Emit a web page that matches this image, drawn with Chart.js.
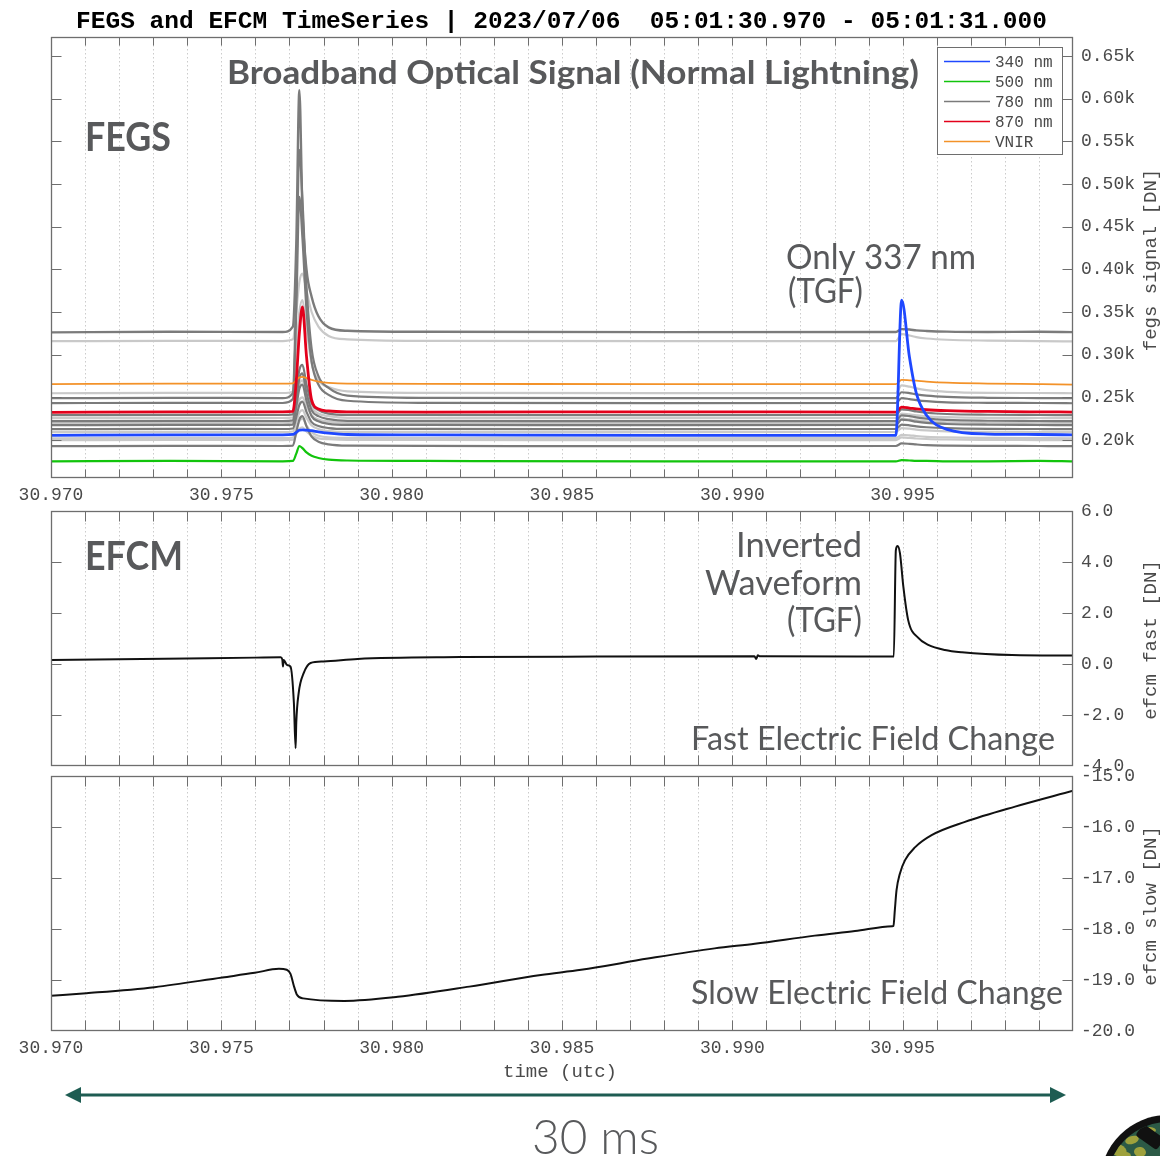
<!DOCTYPE html>
<html>
<head>
<meta charset="utf-8">
<script src="https://cdn.jsdelivr.net/npm/chart.js@4/dist/chart.umd.min.js"></script>
<style>
  html, body { margin: 0; padding: 0; background: #ffffff; }
  #wrap { position: relative; width: 1160px; height: 1156px; overflow: hidden; background: #ffffff; }
  #wrap canvas { position: absolute; left: 0; top: 0; }
</style>
</head>
<body>
<div id="wrap">
  <canvas id="fegs" width="1160" height="1156"></canvas>
  <canvas id="fast" width="1160" height="1156"></canvas>
  <canvas id="slow" width="1160" height="1156"></canvas>
  <canvas id="deco" width="1160" height="1156"></canvas>
</div>
<script>
// ---- time axis: seconds past 05:01 UTC ----
const TIME_MIN = 30.970;
const TIME_MAX = 31.000;
const TIME_TICKS = [30.970, 30.975, 30.980, 30.985, 30.990, 30.995];

// ---- value axes ----
const FEGS_TICKS = [0.20, 0.25, 0.30, 0.35, 0.40, 0.45, 0.50, 0.55, 0.60, 0.65];
const FAST_TICKS = [-4, -2, 0, 2, 4, 6];
const SLOW_TICKS = [-20, -19, -18, -17, -16, -15];

// ---- FEGS channels (kDN), sampled on FEGS_TIME ----
const FEGS_TIME = [30.9700, 30.9735, 30.9768, 30.9771, 30.9772, 30.97729, 30.97738, 30.9775, 30.97765, 30.97785, 30.97815, 30.9787,
                   30.9810, 30.9880, 30.9948, 30.99497, 30.9952, 30.9954, 30.9957, 30.9963, 30.9975, 30.9990, 31.0000];

const CH_340  = [0.2055, 0.2060, 0.2060, 0.2065, 0.2090, 0.2115, 0.2120, 0.2115, 0.2110, 0.2095, 0.2080, 0.2065,
                 0.2060, 0.2055, 0.2055, 0.3640, 0.2970, 0.2550, 0.2290, 0.2125, 0.2070, 0.2065, 0.2060];
const CH_500  = [0.1750, 0.1755, 0.1750, 0.1755, 0.1840, 0.1930, 0.1905, 0.1855, 0.1815, 0.1790, 0.1770, 0.1760,
                 0.1755, 0.1750, 0.1750, 0.1765, 0.1760, 0.1755, 0.1755, 0.1750, 0.1750, 0.1755, 0.1750];
const CH_780  = [0.3262, 0.3268, 0.3266, 0.3330, 0.4300, 0.6100, 0.4700, 0.4000, 0.3680, 0.3450, 0.3320, 0.3280,
                 0.3268, 0.3264, 0.3266, 0.3300, 0.3295, 0.3285, 0.3278, 0.3270, 0.3266, 0.3268, 0.3264];
const CH_870  = [0.2325, 0.2330, 0.2330, 0.2335, 0.2700, 0.3250, 0.3560, 0.2980, 0.2470, 0.2365, 0.2340, 0.2330,
                 0.2328, 0.2330, 0.2328, 0.2385, 0.2375, 0.2365, 0.2355, 0.2345, 0.2335, 0.2330, 0.2328];
const CH_VNIR = [0.2655, 0.2660, 0.2660, 0.2665, 0.2700, 0.2735, 0.2740, 0.2725, 0.2705, 0.2685, 0.2670, 0.2660,
                 0.2658, 0.2655, 0.2655, 0.2705, 0.2700, 0.2695, 0.2685, 0.2672, 0.2662, 0.2655, 0.2650];

// remaining FEGS photometer channels (drawn in gray, not in the key)
const CH_A = [0.3158, 0.3162, 0.3160, 0.3180, 0.3500, 0.3850, 0.3950, 0.3750, 0.3500, 0.3330, 0.3220, 0.3180,
              0.3162, 0.3158, 0.3160, 0.3240, 0.3225, 0.3205, 0.3190, 0.3175, 0.3165, 0.3160, 0.3155];
const CH_B = [0.2490, 0.2494, 0.2492, 0.2550, 0.3800, 0.5400, 0.4820, 0.3800, 0.3070, 0.2750, 0.2610, 0.2520,
              0.2494, 0.2490, 0.2492, 0.2560, 0.2550, 0.2535, 0.2520, 0.2505, 0.2495, 0.2492, 0.2490];
const CH_C = [0.2548, 0.2553, 0.2551, 0.2570, 0.3040, 0.3500, 0.3640, 0.3300, 0.2900, 0.2700, 0.2620, 0.2570,
              0.2552, 0.2549, 0.2551, 0.2640, 0.2625, 0.2605, 0.2585, 0.2565, 0.2553, 0.2551, 0.2548];
const CH_D = [0.2432, 0.2436, 0.2434, 0.2480, 0.3520, 0.4850, 0.4370, 0.3520, 0.2920, 0.2650, 0.2530, 0.2460,
              0.2436, 0.2432, 0.2434, 0.2490, 0.2480, 0.2468, 0.2455, 0.2442, 0.2436, 0.2434, 0.2431];
const CH_E = [0.2291, 0.2295, 0.2293, 0.2300, 0.2560, 0.2820, 0.2880, 0.2650, 0.2430, 0.2350, 0.2310, 0.2295,
              0.2294, 0.2291, 0.2293, 0.2360, 0.2350, 0.2335, 0.2320, 0.2305, 0.2296, 0.2293, 0.2291];
const CH_F = [0.2256, 0.2260, 0.2258, 0.2265, 0.2460, 0.2650, 0.2700, 0.2520, 0.2380, 0.2310, 0.2280, 0.2260,
              0.2259, 0.2256, 0.2258, 0.2310, 0.2300, 0.2290, 0.2278, 0.2268, 0.2260, 0.2258, 0.2256];
const CH_G = [0.2221, 0.2225, 0.2223, 0.2230, 0.2470, 0.2720, 0.2780, 0.2550, 0.2350, 0.2280, 0.2245, 0.2225,
              0.2224, 0.2221, 0.2223, 0.2290, 0.2280, 0.2265, 0.2250, 0.2235, 0.2226, 0.2223, 0.2221];
const CH_H = [0.2197, 0.2201, 0.2199, 0.2205, 0.2340, 0.2470, 0.2500, 0.2400, 0.2290, 0.2240, 0.2215, 0.2200,
              0.2200, 0.2197, 0.2199, 0.2250, 0.2242, 0.2230, 0.2218, 0.2208, 0.2201, 0.2199, 0.2197];
const CH_I = [0.2174, 0.2178, 0.2176, 0.2180, 0.2390, 0.2600, 0.2650, 0.2460, 0.2280, 0.2220, 0.2190, 0.2178,
              0.2177, 0.2174, 0.2176, 0.2240, 0.2230, 0.2215, 0.2200, 0.2188, 0.2179, 0.2176, 0.2174];
const CH_J = [0.2127, 0.2131, 0.2129, 0.2135, 0.2270, 0.2410, 0.2450, 0.2330, 0.2210, 0.2165, 0.2140, 0.2130,
              0.2130, 0.2127, 0.2129, 0.2180, 0.2172, 0.2160, 0.2150, 0.2139, 0.2131, 0.2129, 0.2127];
const CH_K = [0.2092, 0.2096, 0.2094, 0.2100, 0.2210, 0.2320, 0.2350, 0.2260, 0.2170, 0.2130, 0.2105, 0.2095,
              0.2095, 0.2092, 0.2094, 0.2140, 0.2133, 0.2122, 0.2112, 0.2102, 0.2096, 0.2094, 0.2092];
const CH_L = [0.2021, 0.2025, 0.2023, 0.2030, 0.2130, 0.2220, 0.2250, 0.2170, 0.2090, 0.2050, 0.2030, 0.2025,
              0.2024, 0.2021, 0.2023, 0.2060, 0.2055, 0.2047, 0.2038, 0.2030, 0.2025, 0.2023, 0.2021];
const CH_M = [0.1998, 0.2002, 0.2000, 0.2005, 0.2070, 0.2130, 0.2150, 0.2100, 0.2050, 0.2020, 0.2010, 0.2002,
              0.2001, 0.1998, 0.2000, 0.2030, 0.2025, 0.2018, 0.2012, 0.2006, 0.2002, 0.2000, 0.1998];
const CH_N = [0.1928, 0.1932, 0.1930, 0.1935, 0.2090, 0.2240, 0.2280, 0.2160, 0.2040, 0.1980, 0.1950, 0.1935,
              0.1931, 0.1928, 0.1930, 0.1960, 0.1955, 0.1948, 0.1940, 0.1935, 0.1932, 0.1930, 0.1928];

const DARK_CHANNELS  = [CH_B, CH_D, CH_E, CH_G, CH_I, CH_J, CH_N];
const LIGHT_CHANNELS = [CH_A, CH_C, CH_F, CH_H, CH_K, CH_L, CH_M];

// ---- EFCM fast antenna (DN) ----
const FAST_TIME = [30.9700, 30.9720, 30.9740, 30.9760, 30.97674, 30.97679, 30.97681, 30.97683, 30.97693, 30.97703,
                   30.97713, 30.97718, 30.97720, 30.97727, 30.97742, 30.97762, 30.97800, 30.97900, 30.98200, 30.98600,
                   30.99065, 30.99070, 30.99075, 30.99080, 30.99470, 30.99474, 30.99480, 30.99485, 30.99492, 30.99502,
                   30.99516, 30.99546, 30.99575, 30.99624, 30.99674, 30.99821, 31.0000];
const FAST_VAL  = [0.16, 0.19, 0.22, 0.25, 0.26, 0.18, -0.10, 0.16, -0.04, -0.10,
                   -1.53, -3.30, -2.30, -1.14, -0.35, 0.04, 0.10, 0.20, 0.27, 0.29,
                   0.30, 0.20, 0.34, 0.30, 0.29, 0.29, 4.47, 4.63, 4.35, 3.03,
                   1.73, 1.02, 0.75, 0.55, 0.46, 0.35, 0.33];

// ---- EFCM slow antenna (DN) ----
const SLOW_TIME = [30.9700, 30.97104, 30.97304, 30.97503, 30.97598, 30.97669, 30.97692, 30.97703, 30.97714, 30.97722,
                   30.97740, 30.97861, 30.98018, 30.98228, 30.98438, 30.98556, 30.98752, 30.98948, 30.99066, 30.99242,
                   30.99360, 30.99470, 30.99473, 30.99477, 30.99482, 30.99492, 30.99507, 30.99536, 30.99585, 30.99683,
                   30.99830, 31.0000];
const SLOW_VAL  = [-19.31, -19.26, -19.14, -18.95, -18.86, -18.78, -18.80, -18.88, -19.14, -19.29,
                   -19.36, -19.41, -19.33, -19.13, -18.90, -18.80, -18.58, -18.38, -18.29, -18.13,
                   -18.04, -17.945, -17.94, -17.63, -17.24, -16.91, -16.65, -16.40, -16.16, -15.90,
                   -15.60, -15.29];

const LEGEND_LABELS = ['340 nm', '500 nm', '780 nm', '870 nm', 'VNIR'];

// ---- styling ----
const MONO = '"Liberation Mono", "DejaVu Sans Mono", monospace';
const SANS = 'Lato, "Open Sans", "Noto Sans", sans-serif';
const TICK_COLOR = '#4a4a4a';
const NOTE_COLOR = '#58595b';
const COLORS = { b340: '#1f48ff', g500: '#12c40c', gray780: '#7b7b7b', r870: '#e3001b', vnir: '#f39229',
                 dark: '#7b7b7b', light: '#c9c9c9' };

function pts(times, values) { return times.map((t, i) => ({ x: t, y: values[i] })); }

function gridTimes() {
  const out = [];
  for (let i = 0; i <= 30; i++) out.push(+(TIME_MIN + i * 0.001).toFixed(3));
  return out;
}

// frame, dotted time grid and inward tick marks of each panel
const panelFrame = {
  id: 'panelFrame',
  beforeDatasetsDraw(chart) {
    const { ctx, chartArea: a } = chart;
    const x = chart.scales.x;
    ctx.save();
    ctx.strokeStyle = 'rgba(140,140,140,0.45)';
    ctx.lineWidth = 1;
    ctx.setLineDash([1.5, 2.5]);
    gridTimes().forEach(t => {
      const px = Math.round(x.getPixelForValue(t)) + 0.5;
      if (px <= a.left + 2 || px >= a.right - 2) return;
      ctx.beginPath(); ctx.moveTo(px, a.top); ctx.lineTo(px, a.bottom); ctx.stroke();
    });
    ctx.restore();
  },
  afterDatasetsDraw(chart, args, opts) {
    const { ctx, chartArea: a } = chart;
    const x = chart.scales.x, y = chart.scales.y;
    const L = Math.round(a.left) + 0.5, R = Math.round(a.right) - 0.5;
    const T = Math.round(a.top) + 0.5, B = Math.round(a.bottom) - 0.5;
    ctx.save();
    ctx.strokeStyle = '#6e6e6e';
    ctx.lineWidth = 1;
    ctx.beginPath();
    gridTimes().forEach(t => {
      const px = Math.round(x.getPixelForValue(t)) + 0.5;
      if (px <= L + 1 || px >= R - 1) return;
      ctx.moveTo(px, B); ctx.lineTo(px, B - opts.xTick);
      ctx.moveTo(px, T); ctx.lineTo(px, T + opts.xTick);
    });
    y.ticks.forEach(tk => {
      const py = Math.round(y.getPixelForValue(tk.value)) + 0.5;
      if (py <= T + 1 || py >= B - 1) return;
      ctx.moveTo(L, py); ctx.lineTo(L + opts.yTick, py);
      ctx.moveTo(R, py); ctx.lineTo(R - opts.yTick, py);
    });
    ctx.stroke();
    ctx.lineWidth = 1.3;
    ctx.strokeRect(L, T, R - L, B - T);
    ctx.restore();
  }
};

// boxed key in the upper right of the FEGS panel
const fegsKey = {
  id: 'fegsKey',
  afterDraw(chart) {
    const { ctx, chartArea: a } = chart;
    const items = LEGEND_LABELS.map(l => chart.data.datasets.find(d => d.label === l));
    const bx = a.right - 136, by = a.top + 10, bw = 125, bh = 107;
    ctx.save();
    ctx.fillStyle = '#ffffff';
    ctx.fillRect(bx, by, bw, bh);
    ctx.strokeStyle = '#6e6e6e';
    ctx.lineWidth = 1;
    ctx.strokeRect(bx + 0.5, by + 0.5, bw, bh);
    ctx.font = '16px ' + MONO;
    ctx.textBaseline = 'middle';
    ctx.fillStyle = TICK_COLOR;
    items.forEach((d, i) => {
      const yy = by + 14.5 + i * 20;
      ctx.strokeStyle = d.borderColor;
      ctx.lineWidth = 1.5;
      ctx.beginPath(); ctx.moveTo(bx + 7, yy); ctx.lineTo(bx + 53, yy); ctx.stroke();
      ctx.fillText(d.label, bx + 58, yy + 1);
    });
    ctx.restore();
  }
};

function panelOptions(cfg) {
  return {
    responsive: false,
    animation: false,
    events: [],
    layout: { padding: cfg.padding },
    elements: {
      point: { radius: 0 },
      line: { cubicInterpolationMode: 'monotone', borderJoinStyle: 'round', borderCapStyle: 'round' }
    },
    plugins: {
      legend: { display: false },
      tooltip: { enabled: false },
      panelFrame: { xTick: cfg.xTick, yTick: 10 }
    },
    scales: {
      x: {
        type: 'linear', min: TIME_MIN, max: TIME_MAX,
        grid: { display: false, drawTicks: false }, border: { display: false },
        afterBuildTicks: s => { s.ticks = TIME_TICKS.map(v => ({ value: v })); },
        afterFit: s => { s.height = cfg.xHeight; },
        ticks: { display: cfg.xLabels, autoSkip: false, maxRotation: 0, padding: 6, color: TICK_COLOR,
                 font: { family: MONO, size: 18 }, callback: v => Number(v).toFixed(3) }
      },
      y: {
        type: 'linear', position: 'right', min: cfg.yMin, max: cfg.yMax,
        grid: { display: false, drawTicks: false }, border: { display: false },
        afterBuildTicks: s => { s.ticks = cfg.yTicks.map(v => ({ value: v })); },
        afterFit: s => { s.width = 87; },
        ticks: { autoSkip: false, padding: 8, color: TICK_COLOR,
                 font: { family: MONO, size: 18 }, callback: cfg.yFormat }
      }
    }
  };
}

// ---- FEGS panel ----
const fegsSets = [
  { label: '340 nm', data: pts(FEGS_TIME, CH_340), borderColor: COLORS.b340, borderWidth: 2.8, order: 0 },
  { label: '870 nm', data: pts(FEGS_TIME, CH_870), borderColor: COLORS.r870, borderWidth: 2.8, order: 0 },
  { label: 'VNIR', data: pts(FEGS_TIME, CH_VNIR), borderColor: COLORS.vnir, borderWidth: 1.8, order: 0 },
  { label: '500 nm', data: pts(FEGS_TIME, CH_500), borderColor: COLORS.g500, borderWidth: 2.2, order: 0 },
  { label: '780 nm', data: pts(FEGS_TIME, CH_780), borderColor: COLORS.gray780, borderWidth: 2.4, order: 1 }
];
DARK_CHANNELS.forEach(v => fegsSets.push({ label: '', data: pts(FEGS_TIME, v), borderColor: COLORS.dark, borderWidth: 2.2, order: 2 }));
LIGHT_CHANNELS.forEach(v => fegsSets.push({ label: '', data: pts(FEGS_TIME, v), borderColor: COLORS.light, borderWidth: 2.2, order: 3 }));

new Chart(document.getElementById('fegs'), {
  type: 'line',
  data: { datasets: fegsSets },
  options: panelOptions({
    padding: { left: 51, top: 37, right: 0, bottom: 636 },
    xHeight: 42, xLabels: true, xTick: 8,
    yMin: 0.1555, yMax: 0.6723, yTicks: FEGS_TICKS, yFormat: v => Number(v).toFixed(2) + 'k'
  }),
  plugins: [panelFrame, fegsKey]
});

// ---- EFCM fast panel ----
new Chart(document.getElementById('fast'), {
  type: 'line',
  data: { datasets: [{ label: 'efcm fast', data: pts(FAST_TIME, FAST_VAL), borderColor: '#111111', borderWidth: 2 }] },
  options: panelOptions({
    padding: { left: 51, top: 511, right: 0, bottom: 390 },
    xHeight: 0, xLabels: false, xTick: 10,
    yMin: -4, yMax: 6, yTicks: FAST_TICKS, yFormat: v => Number(v).toFixed(1)
  }),
  plugins: [panelFrame]
});

// ---- EFCM slow panel ----
new Chart(document.getElementById('slow'), {
  type: 'line',
  data: { datasets: [{ label: 'efcm slow', data: pts(SLOW_TIME, SLOW_VAL), borderColor: '#111111', borderWidth: 2 }] },
  options: panelOptions({
    padding: { left: 51, top: 776, right: 0, bottom: 83 },
    xHeight: 42, xLabels: true, xTick: 10,
    yMin: -20, yMax: -15, yTicks: SLOW_TICKS, yFormat: v => Number(v).toFixed(1)
  }),
  plugins: [panelFrame]
});

// ---- titles, notes and the time-span arrow ----
function fitText(ctx, text, x, y, width, font, color, align) {
  ctx.save();
  ctx.font = font;
  ctx.fillStyle = color;
  ctx.textBaseline = 'alphabetic';
  ctx.textAlign = 'left';
  const w = ctx.measureText(text).width;
  const left = align === 'right' ? x - width : x;
  ctx.translate(left, y);
  ctx.scale(width / w, 1);
  ctx.fillText(text, 0, 0);
  ctx.restore();
}

function vText(ctx, text, cx, cy) {
  ctx.save();
  ctx.translate(cx, cy);
  ctx.rotate(-Math.PI / 2);
  ctx.font = '19px ' + MONO;
  ctx.fillStyle = TICK_COLOR;
  ctx.textAlign = 'center';
  ctx.textBaseline = 'middle';
  ctx.fillText(text, 0, 0);
  ctx.restore();
}

function drawBadge(ctx) {
  ctx.save();
  const cx = 1168, cy = 1183, r = 68;
  ctx.beginPath(); ctx.arc(cx, cy, r, 0, Math.PI * 2); ctx.fillStyle = '#111111'; ctx.fill();
  ctx.beginPath(); ctx.arc(cx, cy, r - 7, 0, Math.PI * 2); ctx.fillStyle = '#2c5a46'; ctx.fill();
  ctx.clip();
  ctx.fillStyle = '#9ea13c';
  [[1118, 1150, 9, 6, 0.4], [1132, 1140, 7, 4, -0.3], [1140, 1152, 6, 5, 0.2], [1112, 1135, 5, 3, 0.6],
   [1150, 1130, 6, 3, 0.1], [1126, 1156, 5, 4, 0]].forEach(([ex, ey, rx, ry, rot]) => {
    ctx.beginPath(); ctx.ellipse(ex, ey, rx, ry, rot, 0, Math.PI * 2); ctx.fill();
  });
  ctx.translate(1150, 1137);
  ctx.rotate(0.62);
  ctx.fillStyle = '#111111';
  ctx.beginPath();
  ctx.roundRect(-13, -7, 26, 14, 3);
  ctx.fill();
  ctx.restore();
}

(function drawDeco() {
  const ctx = document.getElementById('deco').getContext('2d');

  fitText(ctx, 'FEGS and EFCM TimeSeries | 2023/07/06  05:01:30.970 - 05:01:31.000', 76, 28, 971,
          'bold 24px ' + MONO, '#000000');

  fitText(ctx, 'Broadband Optical Signal (Normal Lightning)', 227, 84, 692, 'bold 33px ' + SANS, NOTE_COLOR);
  fitText(ctx, 'FEGS', 85, 151, 86, 'bold 41px ' + SANS, NOTE_COLOR);
  fitText(ctx, 'Only 337 nm', 786, 269, 190, '35px ' + SANS, NOTE_COLOR);
  fitText(ctx, '(TGF)', 788, 303, 75, '35px ' + SANS, NOTE_COLOR);

  fitText(ctx, 'EFCM', 85, 570, 98, 'bold 41px ' + SANS, NOTE_COLOR);
  fitText(ctx, 'Inverted', 862, 557, 126, '35px ' + SANS, NOTE_COLOR, 'right');
  fitText(ctx, 'Waveform', 862, 595, 157, '35px ' + SANS, NOTE_COLOR, 'right');
  fitText(ctx, '(TGF)', 862, 632, 75, '35px ' + SANS, NOTE_COLOR, 'right');
  fitText(ctx, 'Fast Electric Field Change', 691, 750, 364, '32px ' + SANS, NOTE_COLOR);
  fitText(ctx, 'Slow Electric Field Change', 691, 1004, 372, '32px ' + SANS, NOTE_COLOR);

  vText(ctx, 'fegs signal [DN]', 1151, 260);
  vText(ctx, 'efcm fast [DN]', 1151, 640);
  vText(ctx, 'efcm slow [DN]', 1151, 906);

  ctx.save();
  ctx.font = '19px ' + MONO;
  ctx.fillStyle = TICK_COLOR;
  ctx.textAlign = 'center';
  ctx.textBaseline = 'middle';
  ctx.fillText('time (utc)', 560, 1072);
  ctx.restore();

  // double-headed arrow spanning the 30 ms window
  ctx.save();
  ctx.strokeStyle = '#1e5c52';
  ctx.fillStyle = '#1e5c52';
  ctx.lineWidth = 3;
  ctx.beginPath(); ctx.moveTo(78, 1095); ctx.lineTo(1052, 1095); ctx.stroke();
  ctx.beginPath(); ctx.moveTo(65, 1095); ctx.lineTo(81, 1087); ctx.lineTo(81, 1103); ctx.closePath(); ctx.fill();
  ctx.beginPath(); ctx.moveTo(1066, 1095); ctx.lineTo(1050, 1087); ctx.lineTo(1050, 1103); ctx.closePath(); ctx.fill();
  ctx.restore();

  fitText(ctx, '30 ms', 532, 1154, 127, '300 48px ' + SANS, NOTE_COLOR);

  drawBadge(ctx);
})();
</script>
</body>
</html>
